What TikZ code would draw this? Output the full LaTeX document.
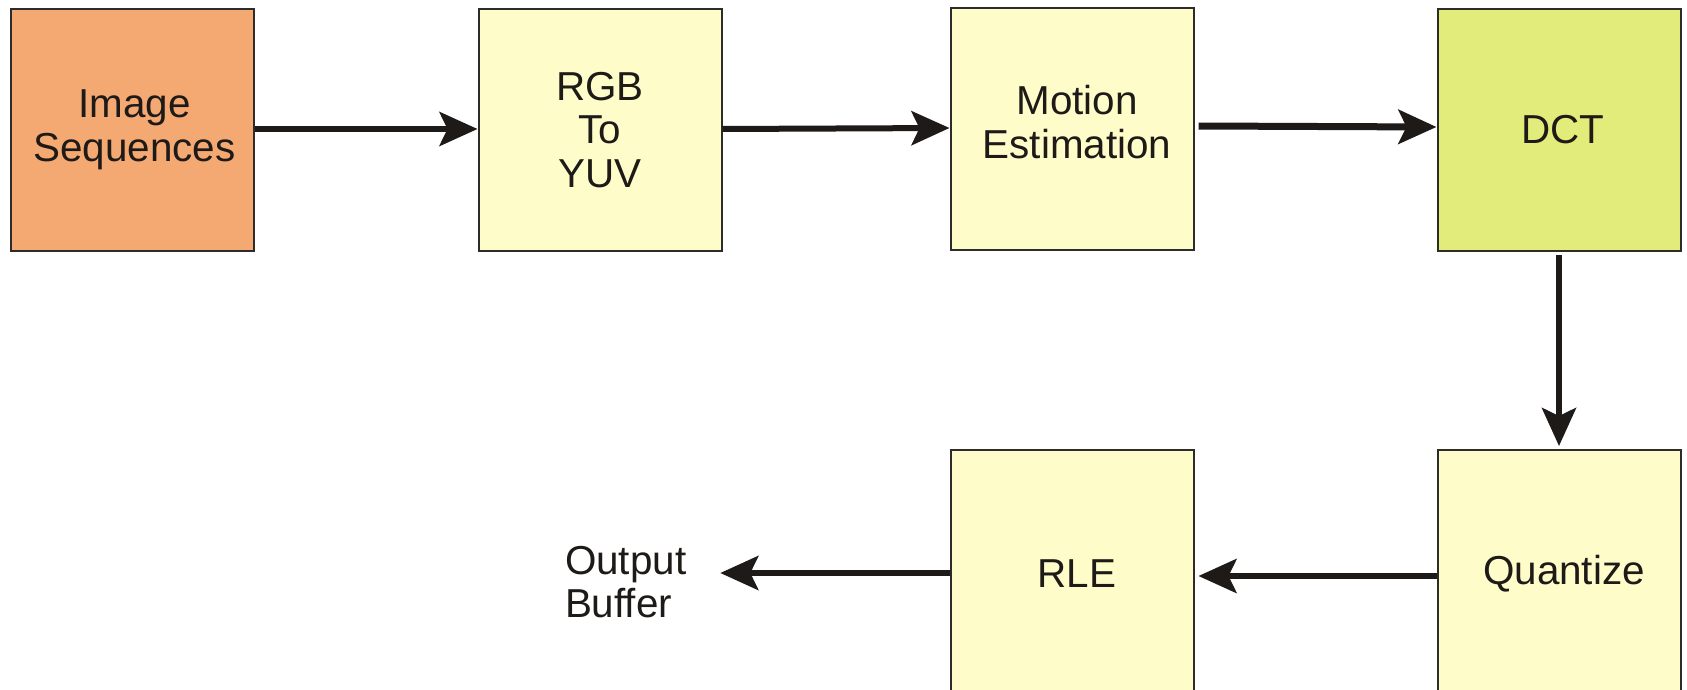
\documentclass[tikz,border=0pt]{standalone}
\usepackage{fontspec}
\setmainfont{Liberation Sans}
\usetikzlibrary{arrows.meta}
\definecolor{orangefill}{HTML}{F4A972}
\definecolor{paleyellow}{HTML}{FEFDC9}
\definecolor{dctgreen}{HTML}{E2EC7A}
\definecolor{edge}{HTML}{2E2C2A}
\definecolor{ink}{HTML}{1E1A18}
\tikzset{
  txtfont/.style={font=\fontsize{20.2}{21.7}\selectfont},
  blockbox/.style={draw=edge, line width=1pt, minimum width=121.5pt, minimum height=121pt, inner sep=0pt, align=center, text=ink, txtfont},
  arr/.style={draw=ink, line width=3pt, -{Stealth[length=19pt, width=17pt, inset=4pt]}},
}
\begin{document}
\begin{tikzpicture}[x=0.5pt, y=-0.5pt]
\clip (0,0) rectangle (1687,690);
\fill[white] (0,0) rectangle (1687,690);
\node[blockbox, fill=orangefill] (img) at (132.5,130) {\hspace*{2pt}\raisebox{-0.5pt}[\height][\depth]{\begin{tabular}{@{}c@{}}Image\\Sequences\end{tabular}}};
\node[blockbox, fill=paleyellow] (rgb) at (600,130) {RGB\\To\\YUV};
\node[blockbox, fill=paleyellow] (mot) at (1072,129) {\hspace*{5pt}\raisebox{0.5pt}[\height][\depth]{\begin{tabular}{@{}c@{}}Motion\\Estimation\end{tabular}}};
\node[blockbox, fill=dctgreen] (dct) at (1559,130) {\hspace*{4pt}DCT};
\node[blockbox, fill=paleyellow] (qnt) at (1559,571) {\hspace*{5pt}\raisebox{-1.2pt}[\height][\depth]{Quantize}};
\node[blockbox, fill=paleyellow] (rle) at (1072,571) {\hspace*{5pt}\raisebox{-1.2pt}[\height][\depth]{RLE}};
\node[anchor=west, inner xsep=0pt, outer xsep=17pt, align=left, text=ink, txtfont] (out) at (531,582) {Output\\Buffer};
\draw[arr] ([yshift=0.5pt]img.east) -- ([yshift=0.5pt]rgb.west);
\draw[arr] ([yshift=0.5pt]rgb.east) -- ([yshift=0.5pt]mot.west);
\draw[arr, line width=3.5pt] ([xshift=2pt,yshift=1.5pt]mot.east) -- ([yshift=1.5pt]dct.west);
\draw[arr] ([yshift=-1.5pt]dct.south) -- ([yshift=1.5pt]qnt.north);
\draw[arr] ([yshift=-2.5pt]qnt.west) -- ([xshift=2pt,yshift=-2.5pt]rle.east);
\draw[arr] ([yshift=-1pt]rle.west) -- ([yshift=-1pt]rle.west -| out.east);
\end{tikzpicture}
\end{document}
